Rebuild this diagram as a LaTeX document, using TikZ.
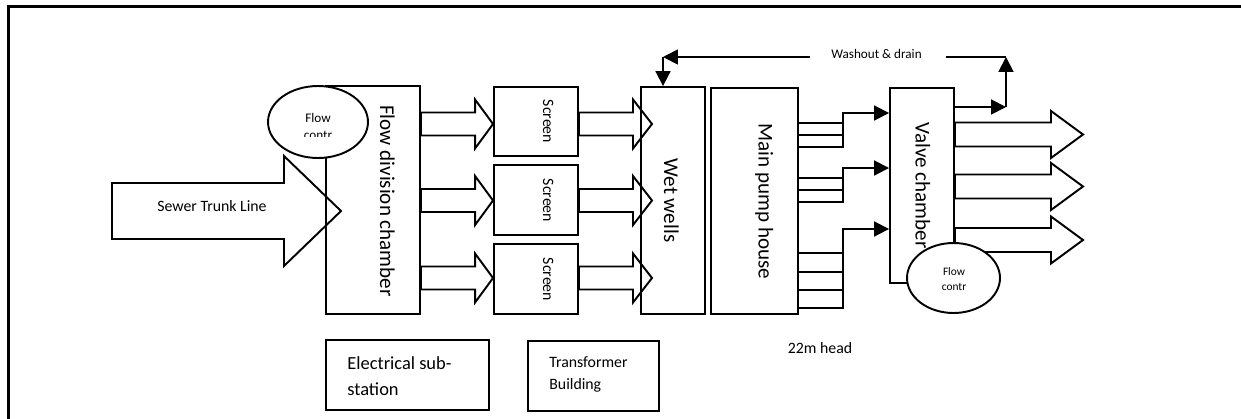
\documentclass[tikz,border=0pt]{standalone}
\usepackage{fontspec}
\setmainfont{Carlito}
\usetikzlibrary{shapes.geometric,arrows.meta,calc}

% open block arrow: tail, tip, head length, half shaft, half head
\newcommand{\fatarrow}[5]{%
  \draw[fat] ($#1+(0,-#4)$) -- ($#2+(-#3,-#4)$) -- ($#2+(-#3,-#5)$) -- #2
    -- ($#2+(-#3,#5)$) -- ($#2+(-#3,#4)$) -- ($#1+(0,#4)$) -- cycle;}

\begin{document}
\begin{tikzpicture}[
    x=0.02cm, y=-0.02cm,
    box/.style={draw, line width=1.1pt, inner sep=0pt},
    vtxt/.style={rotate=-90, anchor=base, inner sep=0pt},
    htxt/.style={anchor=base, inner sep=0pt},
    flowctl/.style={ellipse, draw, fill=white, line width=1.1pt, inner sep=0pt},
    fat/.style={line width=1.1pt, line join=miter},
    pipe/.style={line width=1.1pt},
    tri/.style={-{Triangle[length=8.5pt,width=8.5pt]}, line width=1.1pt},
    bigfont/.style={font=\fontsize{12}{14}\selectfont},
    midfont/.style={font=\fontsize{9}{11}\selectfont},
    smallfont/.style={font=\fontsize{7.5}{9}\selectfont}
]
    \useasboundingbox (0,0) rectangle (1241,419);
    \draw[line width=1.6pt] (8.5,419) -- (8.5,6.5) -- (1241,6.5);

    % buildings
    \node[box, minimum width=1.88cm, minimum height=4.56cm] (fdc) at (373,200) {};
    \node[box, minimum width=1.68cm, minimum height=1.38cm] (scr1) at (536,121.5) {};
    \node[box, minimum width=1.68cm, minimum height=1.40cm] (scr2) at (536,200) {};
    \node[box, minimum width=1.68cm, minimum height=1.40cm] (scr3) at (536,279) {};
    \node[box, minimum width=1.28cm, minimum height=4.54cm] (wet) at (673,200.5) {};
    \node[box, minimum width=1.74cm, minimum height=4.52cm] (mph) at (754.5,201) {};
    \node[box, minimum width=1.28cm, minimum height=3.90cm] (vc) at (922,185.5) {};
    \node[box, minimum width=3.26cm, minimum height=1.40cm] (elec) at (407.5,375) {};
    \node[box, minimum width=2.62cm, minimum height=1.40cm] (trans) at (593.5,376) {};

    \node[vtxt, bigfont] (fdct) at (380,201) {Flow division chamber};
    \foreach \i/\y in {1/121.5,2/200.5,3/279.5}
        \node[vtxt, midfont] (scrt\i) at (543,\y) {Screen};
    \node[vtxt, bigfont] (wett) at (664,200.5) {Wet wells};
    \node[vtxt, bigfont] (mpht) at (758.5,201.5) {Main pump house};
    \node[vtxt, bigfont, anchor=base west] (vct) at (915.5,122) {Valve chamber};

    \node[htxt, anchor=base west, font=\fontsize{10.5}{13}\selectfont] (elect1) at (347,369) {Electrical sub-};
    \node[htxt, anchor=base west, font=\fontsize{10.5}{13}\selectfont] (elect2) at (347,395) {station};
    \node[htxt, anchor=base west, midfont] (transt1) at (549,367) {Transformer};
    \node[htxt, anchor=base west, midfont] (transt2) at (549,389) {Building};
    \node[htxt, midfont] (head) at (820,353) {22m head};

    % sewer trunk line
    \coordinate (trunk) at (112,211);
    \coordinate (ttip) at (341,211);
    \fatarrow{(trunk)}{(ttip)}{57}{28}{55}
    \node[htxt, midfont] (trunkt) at (212,211) {Sewer Trunk Line};

    % to the screens and the wet wells
    \foreach \i/\y in {1/124,2/200.5,3/278} {
        \coordinate (wtip\i) at (652,\y);
        \fatarrow{(fdc.east |- wtip\i)}{(scr\i.west |- wtip\i)}{18}{11.5}{24.5}
        \fatarrow{(scr\i.east |- wtip\i)}{(wtip\i)}{19}{11.5}{24.5}
    }

    % rising mains
    \coordinate (m1) at (843,113);
    \coordinate (m2) at (843,168);
    \coordinate (m3) at (843,229);
    \foreach \y in {123,135} \draw[pipe] (mph.east |- 0,\y) -- (m1 |- 0,\y);
    \draw[tri] (mph.east |- 0,147) -- (m1 |- 0,147) -- (m1) -- (vc.west |- m1);
    \foreach \y in {178,190} \draw[pipe] (mph.east |- 0,\y) -- (m2 |- 0,\y);
    \draw[tri] (mph.east |- 0,202) -- (m2 |- 0,202) -- (m2) -- (vc.west |- m2);
    \foreach \y in {253,272,290} \draw[pipe] (mph.east |- 0,\y) -- (m3 |- 0,\y);
    \draw[tri] (mph.east |- 0,308) -- (m3 |- 0,308) -- (m3) -- (vc.west |- m3);

    % outlets
    \foreach \i/\y in {1/134.5,2/186.5,3/240} {
        \coordinate (otip\i) at (1083,\y);
        \fatarrow{(vc.east |- otip\i)}{(otip\i)}{32}{12}{23.5}
    }

    % washout and drain
    \coordinate (wo1) at (810,57);
    \coordinate (wo2) at (663,57);
    \coordinate (wo3) at (946,57);
    \coordinate (dr) at (1006,107);
    \draw[tri] (wo1) -- (wo2);
    \draw[tri] (wo2) -- (wet.north -| wo2);
    \draw[tri] (vc.east |- dr) -- (dr);
    \draw[tri] (dr) -- (dr |- wo1);
    \draw[pipe] (wo3) -- (dr |- wo1);
    \node[htxt, smallfont] (wot) at (876.5,58) {Washout \& drain};

    % flow control
    \node[flowctl, minimum width=2.0cm, minimum height=1.44cm] (fc1) at (318,122) {};
    \node[htxt, smallfont] (fc1a) at (318,122) {Flow};
    \begin{scope}
        \clip (268,100) rectangle (368,136.5);
        \node[htxt, smallfont] (fc1b) at (318,139) {contr};
    \end{scope}
    \node[flowctl, minimum width=1.86cm, minimum height=1.40cm] (fc2) at (953.5,278) {};
    \node[htxt, font=\fontsize{6.5}{8}\selectfont] (fc2a) at (954,275) {Flow};
    \node[htxt, font=\fontsize{6.5}{8}\selectfont] (fc2b) at (954,290) {contr};
\end{tikzpicture}
\end{document}
